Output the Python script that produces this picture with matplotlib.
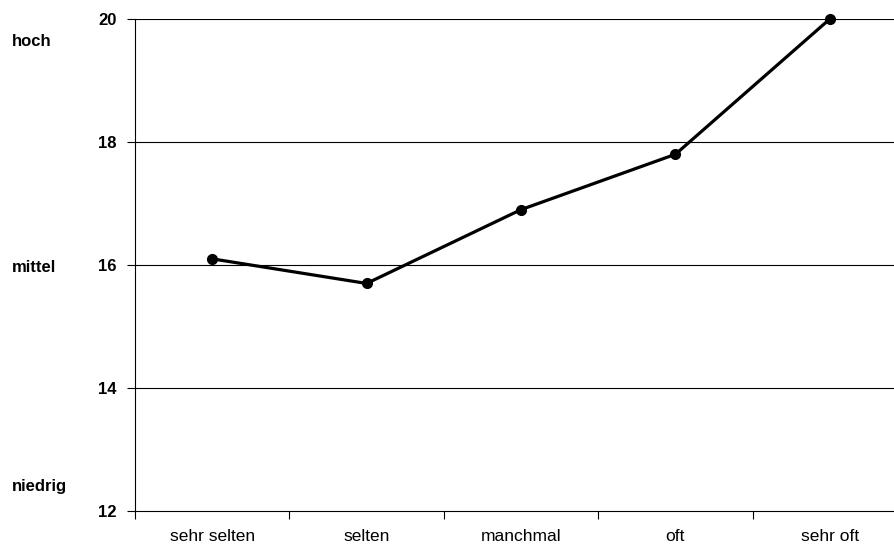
import matplotlib.pyplot as plt

kategorien = ["sehr selten", "selten", "manchmal", "oft", "sehr oft"]
werte = [16.1, 15.7, 16.9, 17.8, 20.0]
y_ticks = [12, 14, 16, 18, 20]
stufen = ["hoch", "mittel", "niedrig"]
stufen_y = [42, 267, 487]

plt.rcParams['font.family'] = ['Liberation Sans', 'DejaVu Sans']

fig = plt.figure(figsize=(8.94, 5.5), dpi=100)
ax = fig.add_axes([135/894, 1-511/550, 772/894, 492/550])

x = [i + 0.5 for i in range(len(kategorien))]
ax.plot(x, werte, color="black", lw=2.3, marker="o", ms=7, zorder=3, clip_on=False)

ax.set_xlim(0, 5)
ax.set_ylim(12, 20)
ax.set_yticks(y_ticks)
ax.set_yticklabels([str(t) for t in y_ticks], fontweight="bold", fontsize=12)
ax.set_xticks(range(6))
ax.set_xticklabels([])
ax.set_xticks(x, minor=True)
ax.set_xticklabels(kategorien, minor=True, fontsize=12.5)
ax.tick_params(axis="x", which="minor", length=0, pad=13)
ax.tick_params(axis="x", which="major", length=6, width=0.8, direction="out")
ax.tick_params(axis="y", length=6, width=0.8, direction="out", pad=7)

for t in y_ticks[1:]:
    ax.axhline(t, color="black", lw=0.8, zorder=1)

for s in ["top", "right"]:
    ax.spines[s].set_visible(False)
ax.spines["left"].set_linewidth(0.8)
ax.spines["bottom"].set_linewidth(0.8)

for lab, py in zip(stufen, stufen_y):
    fig.text(12/894, 1-py/550, lab, fontweight="bold", fontsize=12, va="center", ha="left")

fig.savefig("out.png", dpi=100)
